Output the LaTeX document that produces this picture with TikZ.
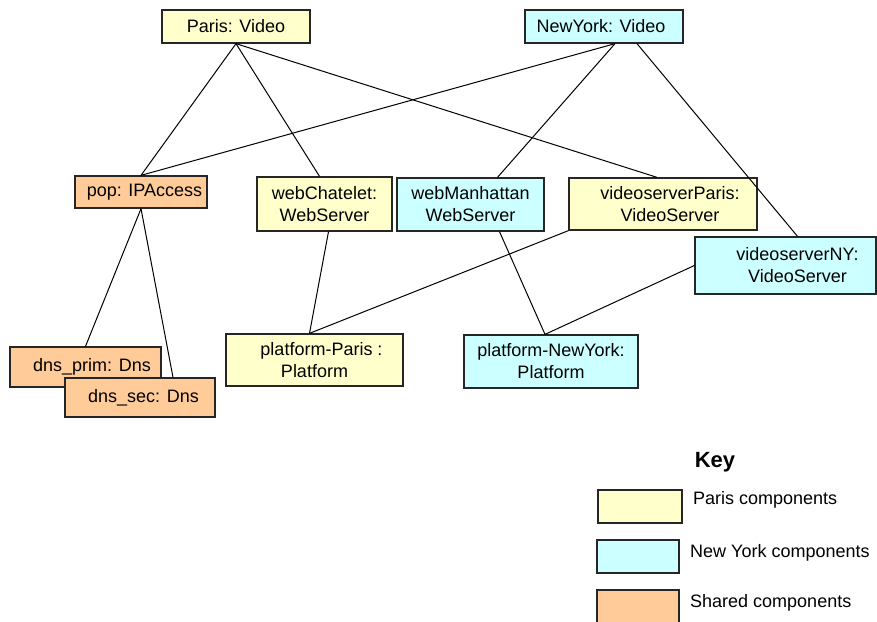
\documentclass[tikz,border=0pt]{standalone}
\usepackage{fontspec}
\setmainfont{Liberation Sans}
\usepackage{xcolor}
\usepackage{tikz}
\usetikzlibrary{positioning, calc}

\definecolor{parisYellow}{HTML}{FFFFCC}
\definecolor{nyCyan}{HTML}{CCFFFF}
\definecolor{sharedOrange}{HTML}{FFCC99}

\begin{document}
\begin{tikzpicture}[x=1pt, y=-1pt,
    comp/.style={draw=black!85, line width=1.3pt, align=center, inner sep=0pt,
      font=\fontsize{18}{22}\selectfont},
    pariscomp/.style={comp, fill=parisYellow},
    nycomp/.style={comp, fill=nyCyan},
    sharedcomp/.style={comp, fill=sharedOrange},
    link/.style={line width=1pt}]
  \useasboundingbox (0,0) rectangle (877,621);

  % Videos
  \node[pariscomp, minimum width=148pt, minimum height=33pt] (parisvideo) at (236,26.5) {Paris: Video};
  \node[nycomp, minimum width=158pt, minimum height=33pt] (nyvideo) at (604,26.5) {NewYork: Video\hspace*{6pt}};

  % Servers
  \node[sharedcomp, minimum width=132pt, minimum height=32pt] (pop) at (141,192) {\hspace*{7pt}pop: IPAccess};
  \node[pariscomp, minimum width=135pt, minimum height=54pt] (webchatelet) at (324.5,204) {webChatelet:\\WebServer};
  \node[nycomp, minimum width=147pt, minimum height=53pt] (webmanhattan) at (470.5,204.5) {webManhattan\\WebServer};
  \node[pariscomp, minimum width=188pt, minimum height=52pt] (vsparis) at (663,204) {\hspace*{14pt}videoserverParis:\\\hspace*{14pt}VideoServer};
  \node[nycomp, minimum width=181pt, minimum height=57pt] (vsny) at (785.5,265.5) {\hspace*{24pt}videoserverNY:\\\hspace*{24pt}VideoServer};

  % Platforms and DNS
  \node[pariscomp, minimum width=177pt, minimum height=52pt] (platparis) at (314.5,360) {\hspace*{14pt}platform-Paris :\\Platform};
  \node[nycomp, minimum width=174pt, minimum height=53pt] (platny) at (551,361.5) {platform-NewYork:\\Platform};
  \node[sharedcomp, minimum width=151pt, minimum height=40pt] (dnsprim) at (85.5,367) {\hspace*{13pt}dns\_prim: Dns};
  \node[sharedcomp, minimum width=150pt, minimum height=39pt] (dnssec) at (140,397.5) {\hspace*{7pt}dns\_sec: Dns};

  % Links
  \draw[link] (parisvideo.south) -- (pop.north);
  \draw[link] (parisvideo.south) -- ([xshift=-5pt]webchatelet.north);
  \draw[link] (parisvideo.south) -- ([xshift=-6pt]vsparis.north);
  \draw[link] ([xshift=11pt]nyvideo.south) -- (pop.north);
  \draw[link] ([xshift=11pt]nyvideo.south) -- ([xshift=27pt]webmanhattan.north);
  \draw[link] ([xshift=33pt]nyvideo.south) -- ([xshift=12pt]vsny.north);
  \draw[link] (pop.south) -- (dnsprim.north);
  \draw[link] (pop.south) -- ([xshift=33pt]dnssec.north);
  \draw[link] ([xshift=4pt]webchatelet.south) -- ([xshift=-5pt]platparis.north);
  \draw[link] (vsparis.south west) -- ([xshift=-5pt]platparis.north);
  \draw[link] ([xshift=29pt]webmanhattan.south) -- ([xshift=-6pt]platny.north);
  \draw[link] (vsny.west) -- ([xshift=-6pt]platny.north);

  % Key
  \node[font=\fontsize{22}{26}\selectfont\bfseries] (key) at (715,462) {Key};
  \node[pariscomp, minimum width=84pt, minimum height=33pt] (keyparis) at (640,506.5) {};
  \node[nycomp, minimum width=82pt, minimum height=33pt] (keyny) at (638,556.5) {};
  \node[sharedcomp, minimum width=82pt, minimum height=40pt] (keyshared) at (638,610) {};
  \node[anchor=west, font=\fontsize{18}{22}\selectfont, inner sep=0pt] at (693,500) {Paris components};
  \node[anchor=west, font=\fontsize{18}{22}\selectfont, inner sep=0pt] at (690,553) {New York components};
  \node[anchor=west, font=\fontsize{18}{22}\selectfont, inner sep=0pt] at (690,603) {Shared components};
\end{tikzpicture}
\end{document}
